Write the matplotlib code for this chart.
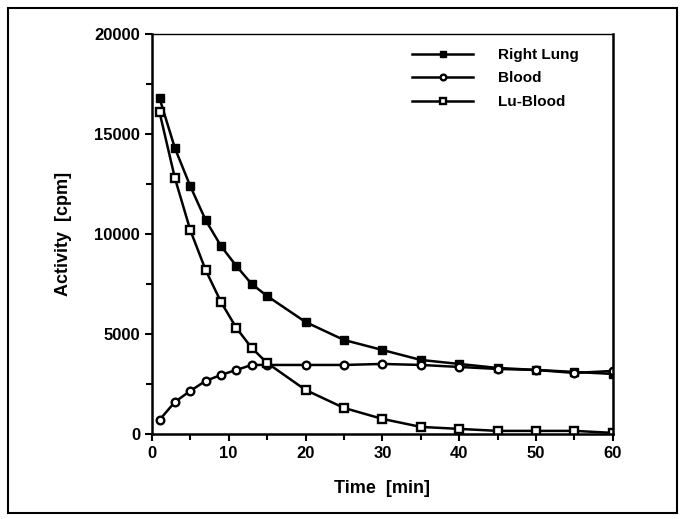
import matplotlib
matplotlib.use('Agg')
from matplotlib import pyplot as plt
from matplotlib.patches import Rectangle
from matplotlib.ticker import MultipleLocator

# time points in minutes
time = [1, 3, 5, 7, 9, 11, 13, 15, 20, 25, 30, 35, 40, 45, 50, 55, 60]

right_lung = [16800, 14300, 12400, 10700, 9400, 8400, 7500, 6900, 5600,
              4700, 4200, 3700, 3500, 3300, 3200, 3100, 3000]
blood = [700, 1600, 2150, 2650, 2950, 3200, 3450, 3450, 3450,
         3450, 3500, 3450, 3350, 3250, 3200, 3050, 3150]
lu_blood = [16100, 12800, 10200, 8200, 6600, 5300, 4300, 3550, 2200,
            1300, 750, 350, 250, 150, 150, 150, 50]

plt.rcParams['font.family'] = 'Liberation Sans'
plt.rcParams['font.weight'] = 'bold'

fig = plt.figure(figsize=(6.84, 5.19), dpi=100)
ax = fig.add_axes([0.222, 0.164, 0.674, 0.770])

# outer frame around the whole figure
fig.patches.append(Rectangle((0.012, 0.012), 0.978, 0.973, transform=fig.transFigure,
                             fill=False, edgecolor='black', linewidth=1.5))

ax.plot(time, right_lung, color='black', lw=1.8, marker='s', ms=5.5,
        mfc='black', mec='black', label='Right Lung')
ax.plot(time, blood, color='black', lw=1.8, marker='o', ms=5.5,
        mfc='white', mec='black', mew=1.7, label='Blood')
ax.plot(time, lu_blood, color='black', lw=1.8, marker='s', ms=5.5,
        mfc='white', mec='black', mew=1.7, label='Lu-Blood')

ax.set_xlim(0, 60)
ax.set_ylim(0, 20000)
ax.xaxis.set_major_locator(MultipleLocator(10))
ax.xaxis.set_minor_locator(MultipleLocator(5))
ax.yaxis.set_major_locator(MultipleLocator(5000))
ax.yaxis.set_minor_locator(MultipleLocator(2500))
ax.tick_params(which='both', direction='out', width=1.5, labelsize=12)
ax.tick_params(which='major', length=5)
ax.tick_params(which='minor', length=4)
for s in ax.spines.values():
    s.set_linewidth(1.8)
ax.spines['top'].set_linewidth(1.0)

ax.set_xlabel('Time  [min]', fontsize=13, fontweight='bold', labelpad=14)
ax.set_ylabel('Activity  [cpm]', fontsize=13, fontweight='bold', labelpad=16)

leg = ax.legend(loc='upper right', bbox_to_anchor=(0.955, 1.0), frameon=False,
                fontsize=11, handlelength=4.0, markerscale=0.75,
                handletextpad=1.6, labelspacing=0.62)

fig.savefig('out.png', dpi=100)
